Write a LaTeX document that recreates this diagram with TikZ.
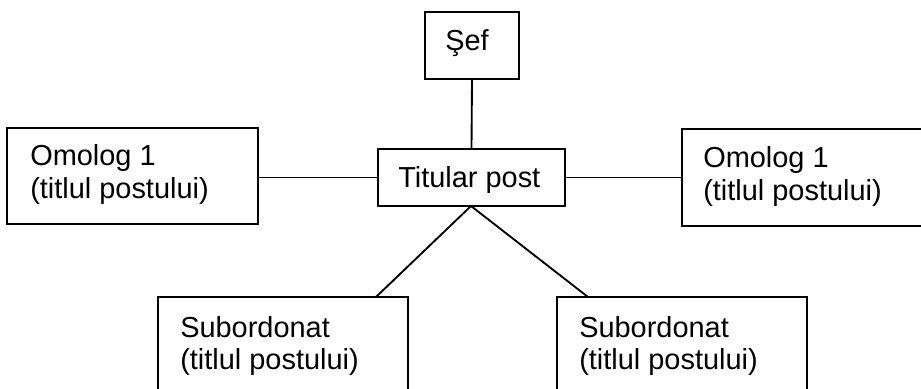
\documentclass[tikz,border=0pt]{standalone}
\usepackage{fontspec}
\setmainfont{Liberation Sans}
\usetikzlibrary{fit}
\begin{document}
\begin{tikzpicture}[x=0.75pt,y=-0.75pt,
  box/.style={draw=black,line width=1.4pt,inner sep=0pt},
  txt/.style={anchor=base west,inner sep=0pt,font=\fontsize{21.7pt}{25pt}\selectfont},
  conn/.style={draw=black,line width=1.4pt}]
\useasboundingbox (0,0) rectangle (921,389);
\clip (0,0) rectangle (921,389);
% boxes
\node[box,fit={(425,12) (519,79)}] (sef) {};
\node[box,fit={(378,149) (565,206)}] (tit) {};
\node[box,fit={(7,128) (258,224)}] (oml) {};
\node[box,fit={(682,129) (925,226)}] (omr) {};
\node[box,fit={(158,297) (408,395)}] (subl) {};
\node[box,fit={(557,297) (807,395)}] (subr) {};
% texts
\node[txt] (tsef) at (445,50) {Şef};
\node[txt] (ttit) at (398,187) {Titular post};
\node[txt] (toml1) at (30,165) {Omolog 1};
\node[txt] (toml2) at (30,198) {(titlul postului)};
\node[txt] (tomr1) at (703,167) {Omolog 1};
\node[txt] (tomr2) at (703,200) {(titlul postului)};
\node[txt] (tsubl1) at (180,337) {Subordonat};
\node[txt] (tsubl2) at (180,369) {(titlul postului)};
\node[txt] (tsubr1) at (579,337) {Subordonat};
\node[txt] (tsubr2) at (579,369) {(titlul postului)};
% connector end points
\coordinate (tbot) at (471,206);
\coordinate (sublin) at (376,297);
\coordinate (subrin) at (588,297);
% connectors
\draw[conn] (sef.south) -- (tit.north);
\draw[conn] (tit.west) -- (tit.west -| oml.east);
\draw[conn] (tit.east) -- (tit.east -| omr.west);
\draw[conn] (tbot) -- (sublin);
\draw[conn] (tbot) -- (subrin);
\end{tikzpicture}
\end{document}
